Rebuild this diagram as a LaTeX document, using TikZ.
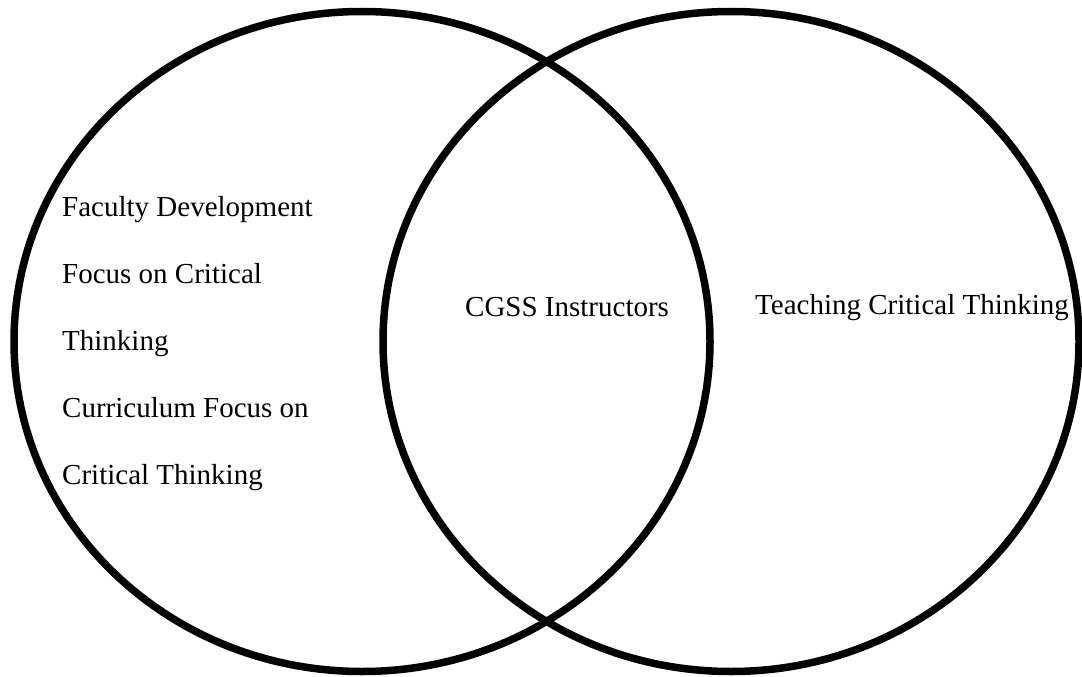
\documentclass[tikz,border=0pt]{standalone}
\usepackage{fontspec}
\setmainfont{Liberation Serif}
\usetikzlibrary{shapes.geometric}
\tikzset{
  venn/.style={draw=black, line width=7.5pt, ellipse, inner sep=0pt, minimum width=696pt, minimum height=660pt},
  lbl/.style={anchor=base west, inner sep=0pt, font=\fontsize{29}{35}\selectfont, text=black}
}
\begin{document}
\begin{tikzpicture}[x=1pt,y=-1pt]
\useasboundingbox (0,0) rectangle (1082,677);
\node[venn] (left) at (362,341.5) {};
\node[venn] (right) at (731,341.5) {};
\node[lbl] (l1) at (62,216) {Faculty Development};
\node[lbl] (l2) at (62,283) {Focus on Critical};
\node[lbl] (l3) at (62,350.5) {Thinking};
\node[lbl] (l4) at (62,417.5) {Curriculum Focus on};
\node[lbl] (l5) at (62,484.5) {Critical Thinking};
\node[lbl] (mid) at (465,316) {CGSS Instructors};
\node[lbl] (r1) at (755,314) {Teaching Critical Thinking};
\end{tikzpicture}
\end{document}
